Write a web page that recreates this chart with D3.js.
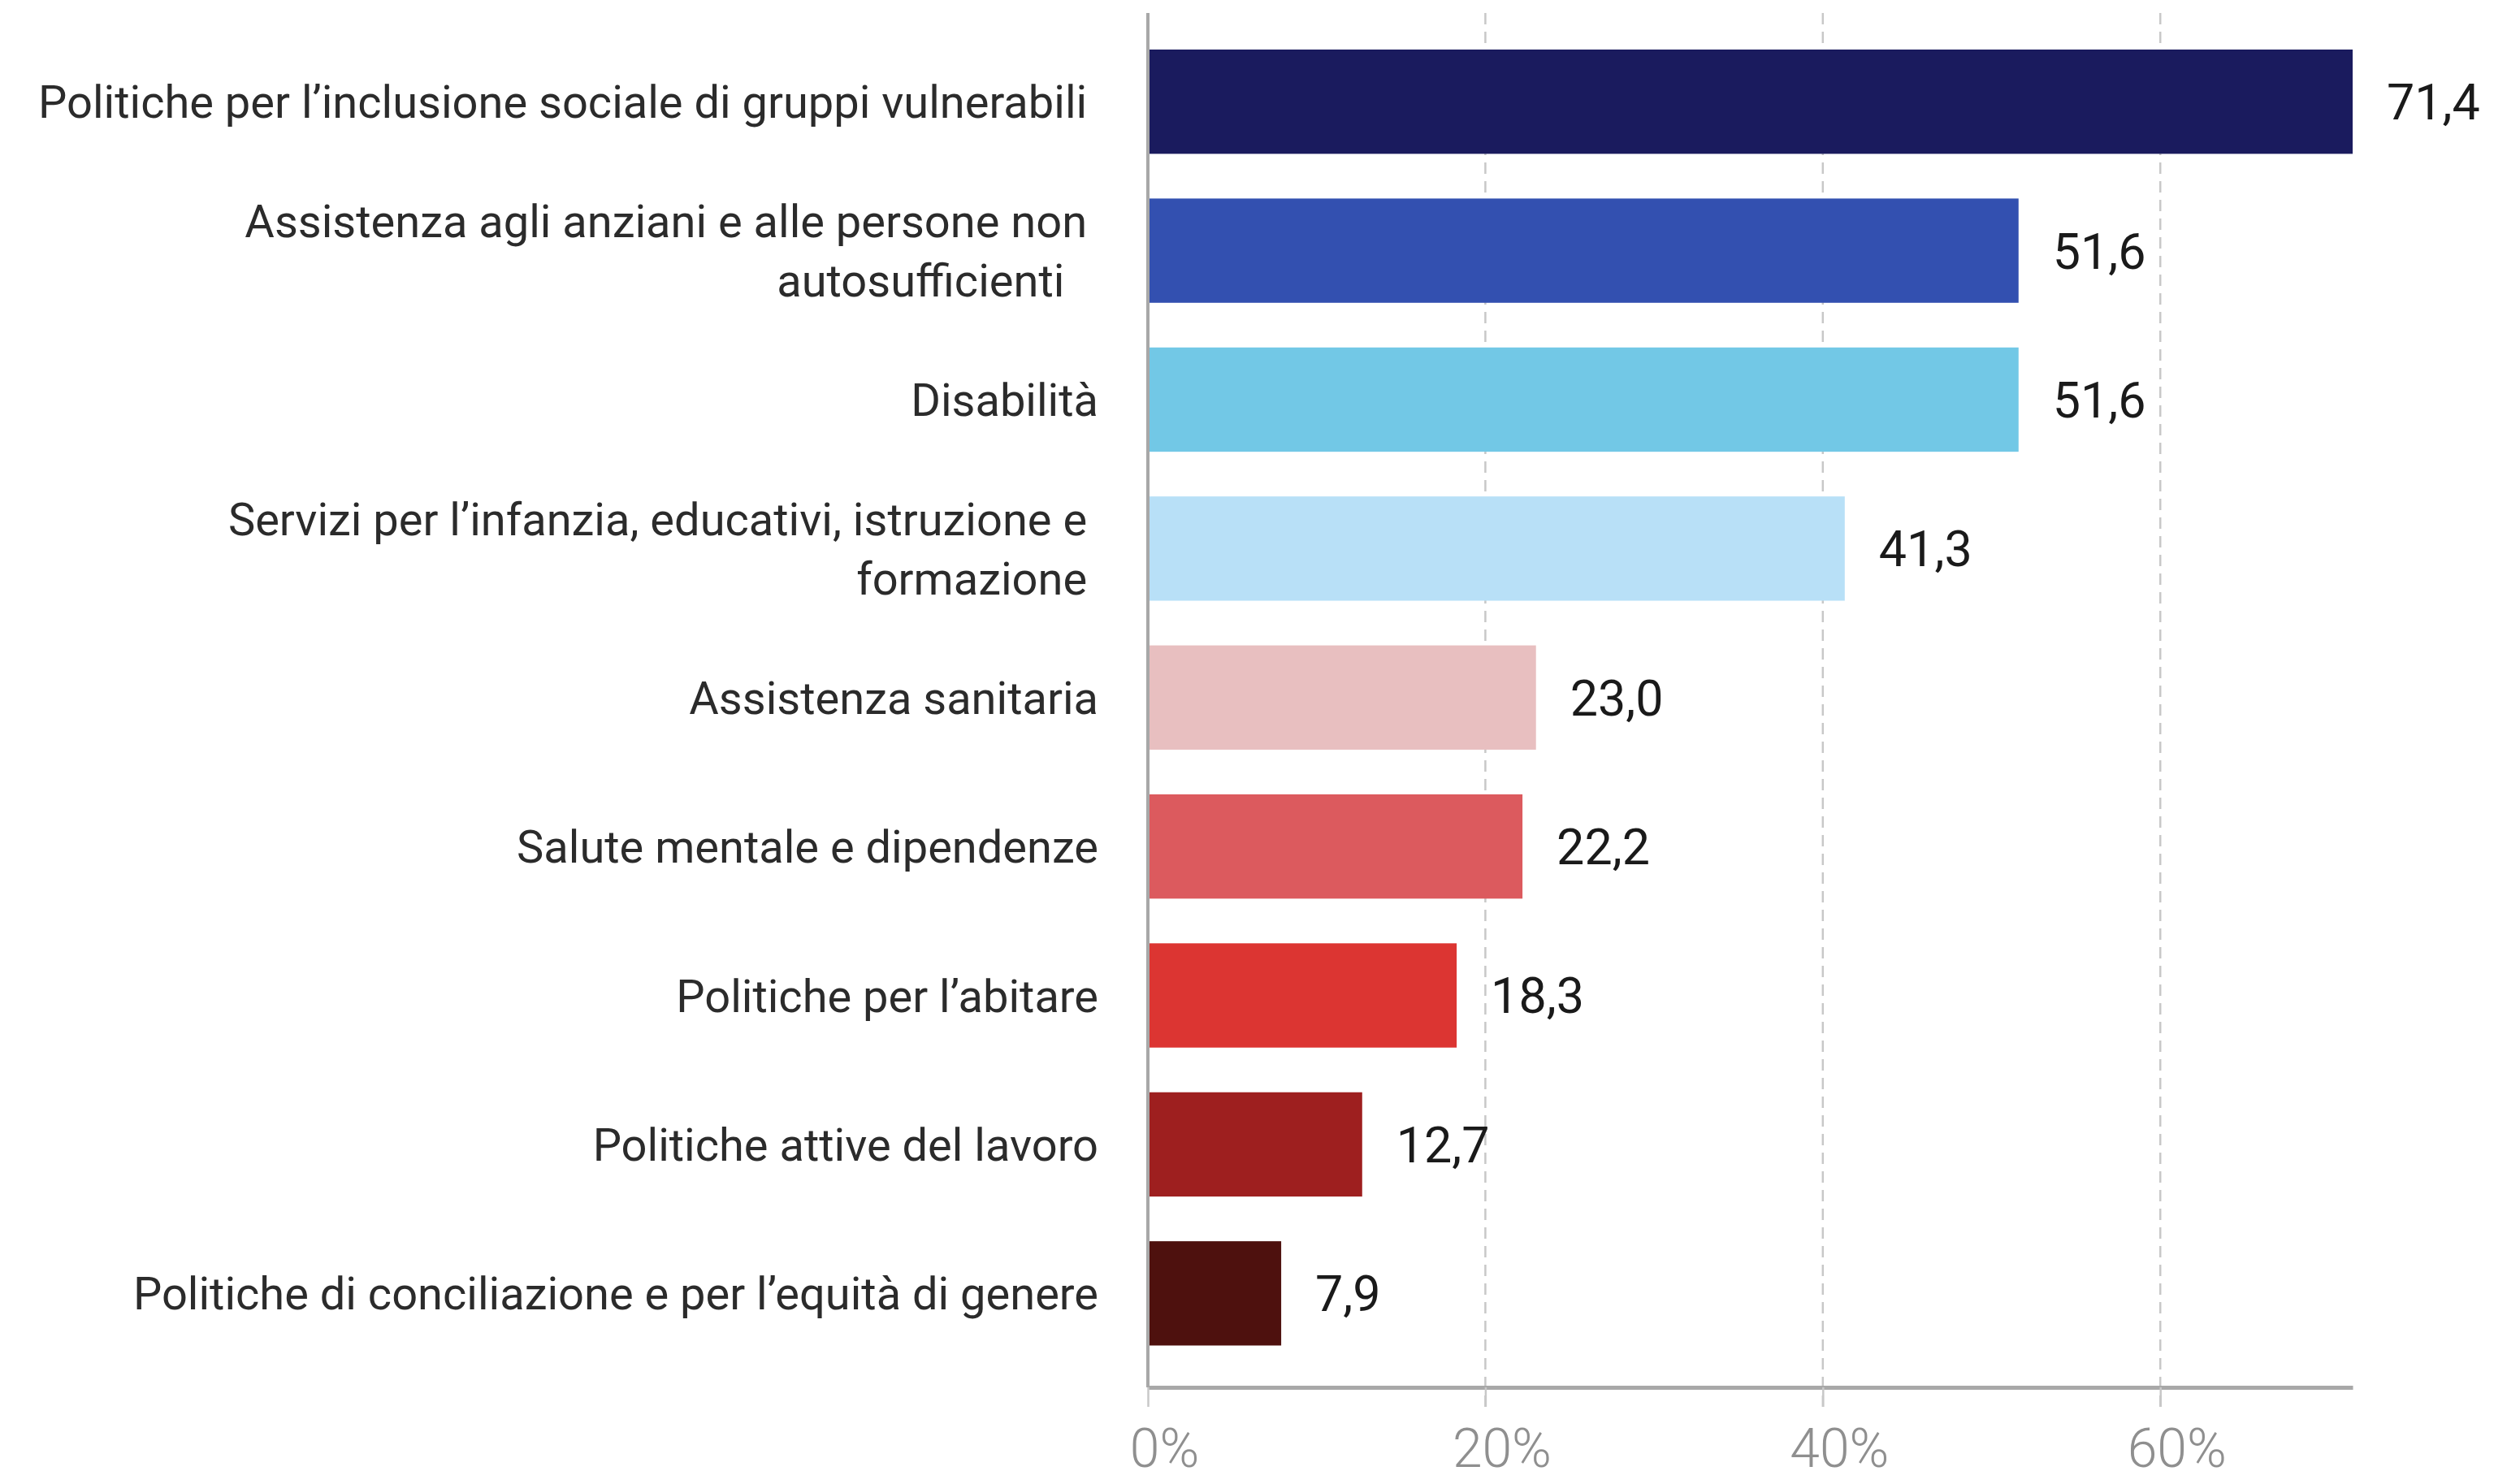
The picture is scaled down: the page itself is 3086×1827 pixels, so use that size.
<!DOCTYPE html>
<html>
<head>
<meta charset="utf-8">
<script src="https://cdn.jsdelivr.net/npm/d3@7"></script>
<style>
  html, body { margin: 0; padding: 0; background: #ffffff; }
  svg { display: block; }
  text { font-family: Roboto, "Noto Sans", sans-serif; }
</style>
</head>
<body>
<script>
// ---- data ----
const categories = [
  ["Politiche per l’inclusione sociale di gruppi vulnerabili "],
  ["Assistenza agli anziani e alle persone non ", "autosufficienti   "],
  ["Disabilità"],
  ["Servizi per l’infanzia, educativi, istruzione e ", "formazione "],
  ["Assistenza sanitaria"],
  ["Salute mentale e dipendenze"],
  ["Politiche per l’abitare"],
  ["Politiche attive del lavoro"],
  ["Politiche di conciliazione e per l’equità di genere"]
];
const values = [71.4, 51.6, 51.6, 41.3, 23.0, 22.2, 18.3, 12.7, 7.9];
const colors = ["#1a1b5e", "#3350b0", "#72c8e6", "#b8e0f7", "#e8bfc0", "#dc5a5e", "#dc3532", "#9e1f1f", "#4e110e"];
const tickValues = [0, 20, 40, 60];
const tickLabels = ["0%", "20%", "40%", "60%"];

// ---- layout ----
const W = 3086, H = 1827;
const plotLeft = 1413, plotRight = 2896, plotTop = 16, axisY = 1708;

const svg = d3.select("body").append("svg").attr("width", W).attr("height", H);
svg.append("rect").attr("width", W).attr("height", H).attr("fill", "#fff");

const x = d3.scaleLinear().domain([0, d3.max(values)]).range([plotLeft, plotRight]);
const idx = d3.range(values.length);
const y = d3.scaleBand().domain(idx).range([33.5, 1684]).paddingInner(0.3).paddingOuter(0.15);

// gridlines
svg.append("g").selectAll("line").data(tickValues.filter(d => d > 0)).join("line")
  .attr("x1", d => x(d)).attr("x2", d => x(d))
  .attr("y1", plotTop).attr("y2", axisY + 24)
  .attr("stroke", "#c8c8c8").attr("stroke-width", 2.5)
  .attr("stroke-dasharray", "14,9");

// bars
svg.append("g").selectAll("rect").data(idx).join("rect")
  .attr("x", x(0)).attr("y", i => y(i))
  .attr("width", i => x(values[i]) - x(0))
  .attr("height", y.bandwidth())
  .attr("fill", i => colors[i]);

// value labels
const fmt = v => d3.format(".1f")(v).replace(".", ",");
svg.append("g").selectAll("text").data(idx).join("text")
  .attr("x", i => x(values[i]) + 42)
  .attr("y", i => y(i) + y.bandwidth() / 2)
  .attr("dy", "0.36em")
  .attr("font-size", 61)
  .attr("fill", "#1a1a1a")
  .text(i => fmt(values[i]));

// category labels
const lab = svg.append("g").selectAll("text").data(idx).join("text")
  .attr("text-anchor", "end")
  .attr("font-size", 56)
  .attr("fill", "#2b2b2b")
  .style("white-space", "pre")
  .attr("transform", i => `translate(1352,${y(i) + y.bandwidth() / 2})`);
lab.each(function(i) {
  const lines = categories[i];
  const n = lines.length;
  d3.select(this).selectAll("tspan").data(lines).join("tspan")
    .attr("x", 0)
    .attr("y", (d, j) => (j - (n - 1) / 2) * 73)
    .attr("dy", "0.36em")
    .text(d => d);
});

// y axis line
svg.append("line")
  .attr("x1", plotLeft).attr("x2", plotLeft).attr("y1", plotTop).attr("y2", axisY)
  .attr("stroke", "#a8a8a8").attr("stroke-width", 4);

// x axis
const xAxis = d3.axisBottom(x).tickValues(tickValues).tickSize(24).tickSizeOuter(0)
  .tickFormat((d, i) => tickLabels[i]);
const gx = svg.append("g").attr("transform", `translate(0,${axisY})`).call(xAxis);
gx.select(".domain").attr("stroke", "#a8a8a8").attr("stroke-width", 5);
gx.selectAll(".tick line").attr("stroke", "#c8c8c8").attr("stroke-width", 2.5);
gx.selectAll(".tick text")
  .attr("font-family", "Roboto, sans-serif")
  .attr("font-weight", 300)
  .attr("font-size", 66)
  .attr("fill", "#8f8f8f")
  .attr("dx", 20)
  .attr("y", 98)
  .attr("dy", "0em");
</script>
</body>
</html>
